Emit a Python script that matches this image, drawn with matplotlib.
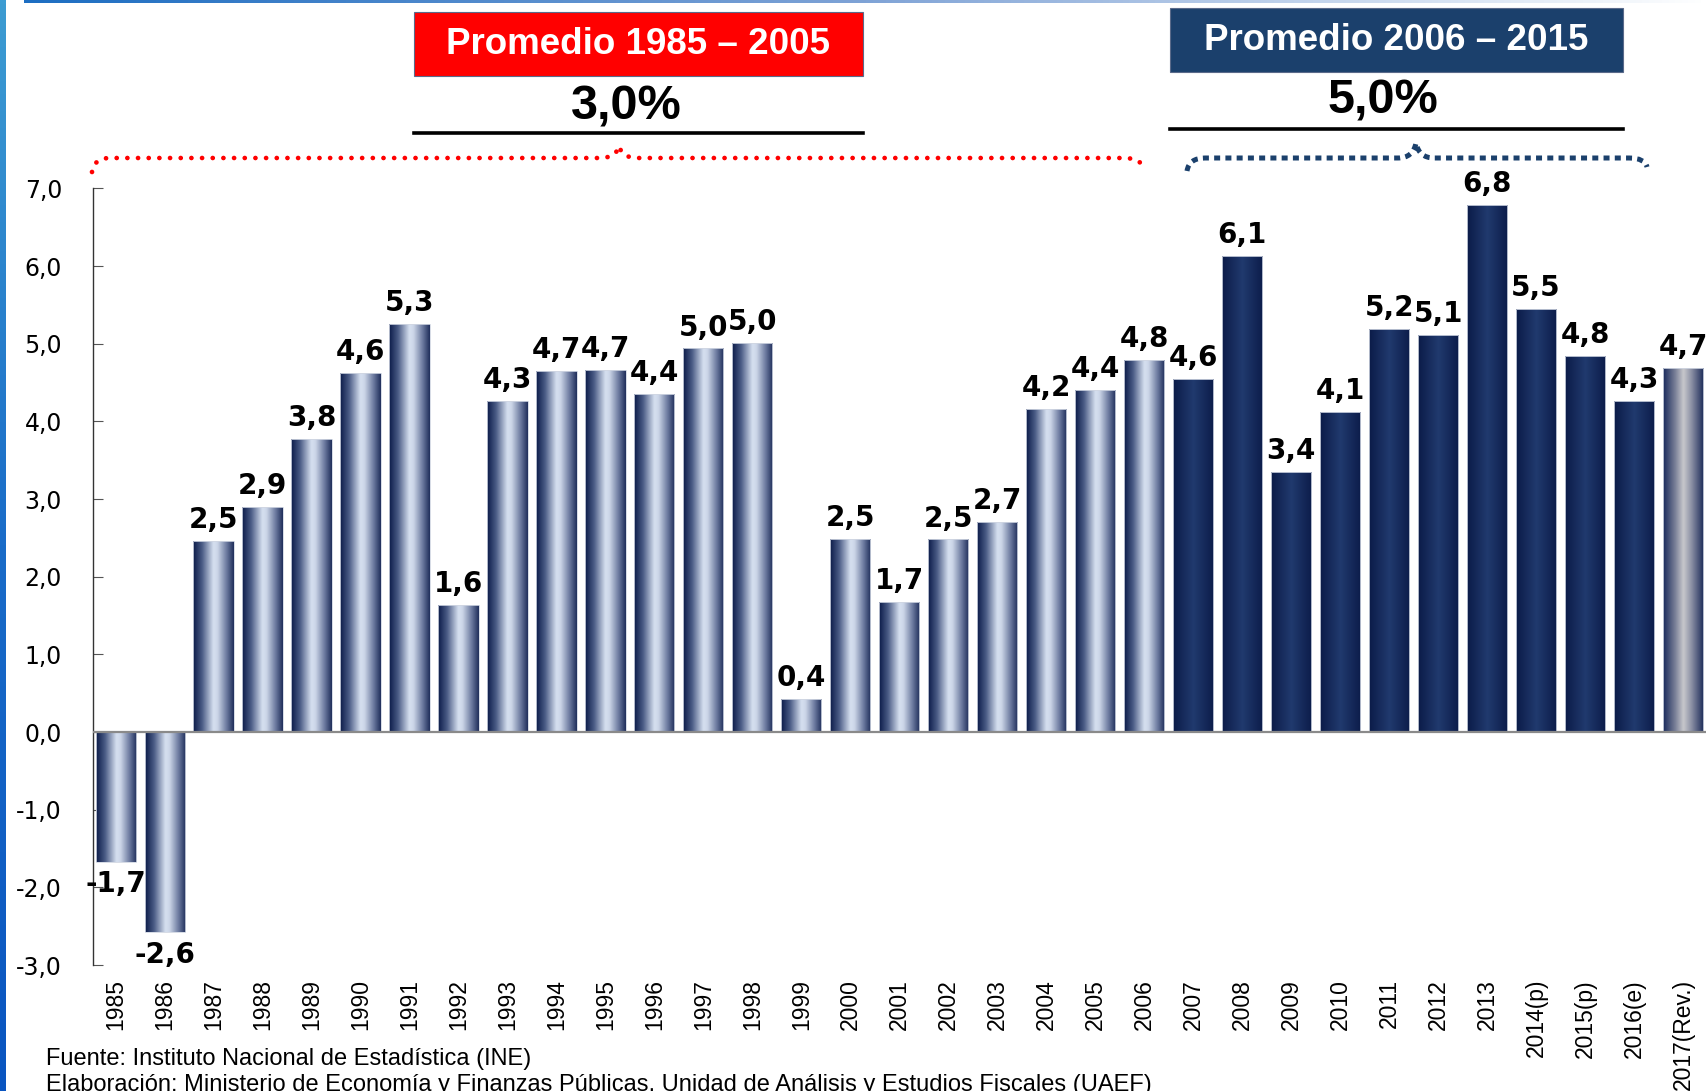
import numpy as np
import matplotlib
matplotlib.use("Agg")
import matplotlib.pyplot as plt
from matplotlib.colors import LinearSegmentedColormap
from matplotlib.path import Path
from matplotlib.patches import PathPatch, Rectangle
from matplotlib.lines import Line2D

# ---------------- data ----------------
years = ["1985", "1986", "1987", "1988", "1989", "1990", "1991", "1992", "1993",
         "1994", "1995", "1996", "1997", "1998", "1999", "2000", "2001", "2002",
         "2003", "2004", "2005", "2006", "2007", "2008", "2009", "2010", "2011",
         "2012", "2013", "2014(p)", "2015(p)", "2016(e)", "2017(Rev.)"]
growth = [-1.67, -2.58, 2.46, 2.90, 3.78, 4.62, 5.25, 1.64, 4.26,
          4.65, 4.66, 4.35, 4.94, 5.01, 0.42, 2.49, 1.68, 2.48,
          2.70, 4.16, 4.41, 4.79, 4.55, 6.13, 3.35, 4.12, 5.19,
          5.11, 6.79, 5.45, 4.84, 4.26, 4.69]
value_labels = ["-1,7", "-2,6", "2,5", "2,9", "3,8", "4,6", "5,3", "1,6", "4,3",
                "4,7", "4,7", "4,4", "5,0", "5,0", "0,4", "2,5", "1,7", "2,5",
                "2,7", "4,2", "4,4", "4,8", "4,6", "6,1", "3,4", "4,1", "5,2",
                "5,1", "6,8", "5,5", "4,8", "4,3", "4,7"]
# bar style group: 0 = 1985-2006, 1 = 2007-2016, 2 = 2017
group = [0] * 22 + [1] * 10 + [2]
yticks = [-3, -2, -1, 0, 1, 2, 3, 4, 5, 6, 7]
avg1_title, avg1_value = "Promedio 1985 \u2013 2005", "3,0%"
avg2_title, avg2_value = "Promedio 2006 \u2013 2015", "5,0%"
source1 = "Fuente: Instituto Nacional de Estad\u00edstica (INE)"
source2 = ("Elaboraci\u00f3n: Ministerio de Econom\u00eda y Finanzas P\u00fablicas, "
           "Unidad de An\u00e1lisis y Estudios Fiscales (UAEF)")

# ---------------- figure ----------------
W, H = 1708, 1091
fig = plt.figure(figsize=(W / 100, H / 100), dpi=100)
fig.patch.set_facecolor("white")

def fx(px):
    return px / W

def fy(py):
    return 1 - py / H

ax = fig.add_axes([fx(92.6), fy(965), fx(1706 - 92.6), (965 - 188.5) / H])

cmaps = [
    LinearSegmentedColormap.from_list("g0", [
        (0.0, "#0a1a48"), (0.22, "#4a5b85"), (0.5, "#d6e0f0"), (0.6, "#ccd6e8"),
        (0.82, "#6d7ba0"), (1.0, "#1f2e5a")]),
    LinearSegmentedColormap.from_list("g1", [
        (0.0, "#0b1b48"), (0.5, "#213a6e"), (1.0, "#0c1c4a")]),
    LinearSegmentedColormap.from_list("g2", [
        (0.0, "#17285a"), (0.3, "#7a8098"), (0.5, "#c8c8cc"), (0.7, "#8a8fa4"),
        (1.0, "#1b2a58")]),
]

x = np.arange(len(years))
bars = ax.bar(x, growth, width=0.82, facecolor="none", edgecolor="#d0d6e2",
              linewidth=0.6, zorder=3)
grad = np.linspace(0, 1, 256).reshape(1, -1)
for b, g in zip(bars, group):
    bx, by = b.get_x(), b.get_y()
    bw, bh = b.get_width(), b.get_height()
    im = ax.imshow(grad, extent=[bx, bx + bw, by, by + bh], aspect="auto",
                   cmap=cmaps[g], zorder=2, interpolation="bicubic")
    im.set_clip_path(b)

for xi, v, lab in zip(x, growth, value_labels):
    if v >= 0:
        ax.annotate(lab, (xi, v), xytext=(0, 5), textcoords="offset points",
                    ha="center", va="bottom", fontsize=20, fontweight="bold",
                    family="DejaVu Sans", zorder=5)
    else:
        ax.annotate(lab, (xi, v), xytext=(0, -6), textcoords="offset points",
                    ha="center", va="top", fontsize=20, fontweight="bold",
                    family="DejaVu Sans", zorder=5)

ax.set_xlim(-0.47, len(years) - 1 + 0.47)
ax.set_ylim(-3, 7)
ax.axhline(0, color="#8a8a8a", lw=1.6, zorder=4)

for s in ["top", "right", "bottom"]:
    ax.spines[s].set_visible(False)
ax.spines["left"].set_color("#333333")
ax.spines["left"].set_linewidth(1.0)

ax.set_yticks(yticks)
ax.set_yticklabels([f"{t:.1f}".replace(".", ",") for t in yticks],
                   fontsize=17, family="DejaVu Sans")
ax.tick_params(axis="y", direction="in", length=7, color="#555555", pad=22)
ax.set_xticks(x)
ax.set_xticklabels(years, rotation=90, fontsize=16.5, family="Liberation Sans",
                   va="top", ha="center")
ax.tick_params(axis="x", length=0, pad=10)

# ---------------- decorations ----------------
# left stripe and top rule (gradients)
lax = fig.add_axes([0, 0, fx(5.5), 1])
lax.imshow(np.linspace(0, 1, 256).reshape(-1, 1), aspect="auto",
           cmap=LinearSegmentedColormap.from_list("ls", ["#3d9cd2", "#1a6cc8", "#0a55c0"]),
           extent=[0, 1, 0, 1], origin="upper")
lax.axis("off")
tax = fig.add_axes([fx(24), fy(3.5), 1 - fx(24), 3.5 / H])
tax.imshow(np.linspace(0, 1, 256).reshape(1, -1), aspect="auto",
           cmap=LinearSegmentedColormap.from_list("ts", ["#1d6ec2", "#7fa3d6", "#ffffff"]),
           extent=[0, 1, 0, 1])
tax.axis("off")

# boxes with titles
def box(x0, x1, y0, y1, color, title):
    fig.patches.append(Rectangle((fx(x0), fy(y1)), fx(x1 - x0), (y1 - y0) / H,
                                 transform=fig.transFigure, facecolor=color,
                                 edgecolor="#5a6a8a", lw=0.8, zorder=1))
    fig.text(fx((x0 + x1) / 2), fy((y0 + y1) / 2 + 1), title, color="white",
             fontsize=26.5, fontweight="bold", family="Liberation Sans",
             ha="center", va="center")

box(414, 863, 12, 76, "#ff0000", avg1_title)
box(1170, 1623, 8, 72, "#1b406c", avg2_title)

fig.text(fx(626), fy(107), avg1_value, fontsize=35, fontweight="bold",
         family="Liberation Sans", ha="center", va="center")
fig.text(fx(1383), fy(101), avg2_value, fontsize=35, fontweight="bold",
         family="Liberation Sans", ha="center", va="center")
fig.add_artist(Line2D([fx(414), fx(863)], [fy(133), fy(133)], color="black", lw=2.6))
fig.add_artist(Line2D([fx(1170), fx(1623)], [fy(128.5), fy(128.5)], color="black", lw=2.6))

# braces
def brace(x0, x1, xp, yl, ye0, ye1, yp, **kw):
    d = 18
    verts = [(x0, ye0), (x0 + 2, yl), (x0 + d, yl),
             (xp - d, yl),
             (xp - 3, yl), (xp, yp),
             (xp + 3, yl), (xp + d, yl),
             (x1 - d, yl),
             (x1 - 2, yl), (x1, ye1)]
    codes = [Path.MOVETO, Path.CURVE3, Path.CURVE3, Path.LINETO,
             Path.CURVE3, Path.CURVE3, Path.CURVE3, Path.CURVE3,
             Path.LINETO, Path.CURVE3, Path.CURVE3]
    v = [(fx(a), fy(b)) for a, b in verts]
    fig.patches.append(PathPatch(Path(v, codes), transform=fig.transFigure,
                                 fill=False, **kw))

brace(92, 1142, 619, 158, 172, 166, 146, edgecolor="#ff0000", lw=3.4,
      linestyle=(0, (0.01, 2.25)), capstyle="round")
brace(1187, 1647, 1416, 158, 171, 167, 143, edgecolor="#1b406c", lw=3.6,
      linestyle=(0, (1.2, 1.05)), capstyle="butt")

# footer
fig.text(fx(46), fy(1059), source1, fontsize=17, family="Liberation Sans",
         ha="left", va="center")
fig.text(fx(46), fy(1085), source2, fontsize=17, family="Liberation Sans",
         ha="left", va="center")

fig.savefig("out.png", dpi=100)
